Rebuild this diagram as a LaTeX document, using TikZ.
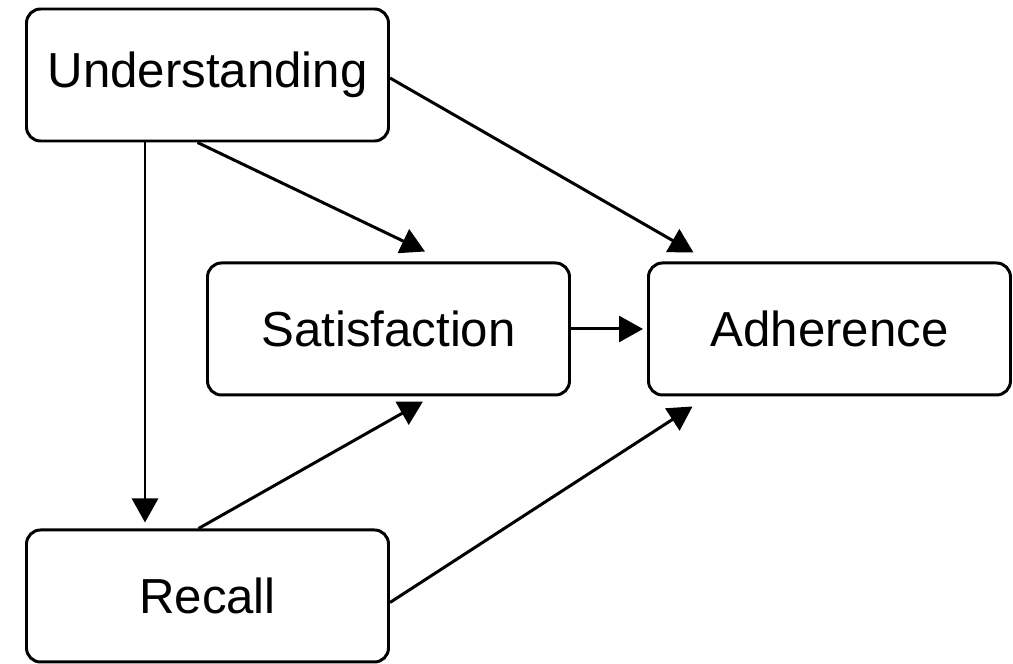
\documentclass[tikz,border=0pt]{standalone}
\usepackage{fontspec}
\setmainfont{Liberation Sans}
\usepackage{tikz}
\usetikzlibrary{arrows.meta,positioning}

\begin{document}
\begin{tikzpicture}[
  bx/.style={draw, line width=1.7pt, rounded corners=8pt, minimum width=7.24cm, minimum height=2.64cm, align=center, font=\fontsize{28}{34}\selectfont, inner sep=3pt},
  arr/.style={-{Triangle[length=4.8mm, width=5.2mm]}, line width=1.7pt}
]
\useasboundingbox (0,0) rectangle (20.26,-13.28);
\node[bx] (und) at (4.15,-1.5) {Understanding};
\node[bx, below=7.72cm of und] (rec) {Recall};
\node[bx, below=2.38cm of und, xshift=3.62cm] (sat) {Satisfaction};
\node[bx, right=1.52cm of sat] (adh) {Adherence};
\draw[arr] ([xshift=-1.25cm]und.south) -- ([xshift=-1.25cm, yshift=0.12cm]rec.north);
\draw[arr] ([xshift=-0.2cm]und.south) -- ([xshift=0.73cm, yshift=0.2cm]sat.north);
\draw[arr] ([yshift=-0.06cm]und.east) -- ([xshift=-2.72cm, yshift=0.18cm]adh.north);
\draw[arr] (sat.east) -- ([xshift=-0.08cm]adh.west);
\draw[arr] ([xshift=-0.18cm]rec.north) -- ([xshift=0.69cm, yshift=-0.1cm]sat.south);
\draw[arr] ([yshift=-0.13cm]rec.east) -- ([xshift=-2.74cm, yshift=-0.2cm]adh.south);
\end{tikzpicture}
\end{document}
